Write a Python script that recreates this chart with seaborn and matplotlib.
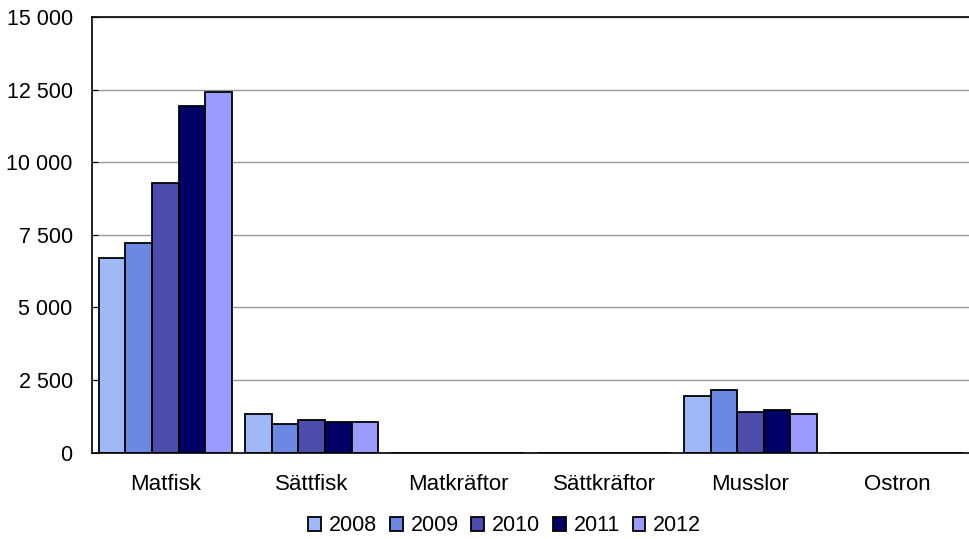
import pandas as pd
import seaborn as sns
import matplotlib.pyplot as plt
from matplotlib.ticker import FuncFormatter

# Data (ton)
categories = ['Matfisk', 'Sättfisk', 'Matkräftor', 'Sättkräftor', 'Musslor', 'Ostron']
years = ['2008', '2009', '2010', '2011', '2012']
v2008 = [6700, 1320, 0, 0, 1950, 0]
v2009 = [7230, 980, 0, 0, 2150, 0]
v2010 = [9290, 1130, 0, 0, 1410, 0]
v2011 = [11950, 1070, 0, 0, 1480, 0]
v2012 = [12430, 1060, 0, 0, 1340, 0]
colors = ['#A1B8F7', '#6B88E2', '#4C4CAC', '#000066', '#9B9BFF']

rows = []
for year, vals in zip(years, [v2008, v2009, v2010, v2011, v2012]):
    for cat, v in zip(categories, vals):
        rows.append({'kategori': cat, 'år': year, 'ton': v})
df = pd.DataFrame(rows)

sns.set_style('white')
plt.rcParams['font.family'] = ['Liberation Sans', 'DejaVu Sans']
plt.rcParams['text.color'] = 'black'
plt.rcParams['xtick.color'] = 'black'
plt.rcParams['ytick.color'] = 'black'

fig = plt.figure(figsize=(9.7, 5.39), dpi=100)
ax = fig.add_axes([0.095, 0.16, 0.905, 0.8085])

sns.barplot(data=df, x='kategori', y='ton', hue='år', palette=colors,
            saturation=1, width=0.91, edgecolor='black', linewidth=1.3,
            ax=ax, legend=True)

ax.set_ylim(0, 15000)
ax.set_xlim(-0.5, 5.5)
ax.set_yticks(range(0, 15001, 2500))
ax.yaxis.set_major_formatter(FuncFormatter(lambda v, p: f'{int(v):,}'.replace(',', ' ')))
ax.grid(axis='y', color='#999999', linewidth=1)
ax.set_axisbelow(True)
ax.set_xlabel('')
ax.set_ylabel('')

ax.spines['right'].set_visible(False)
for s in ['left', 'bottom', 'top']:
    ax.spines[s].set_color('black')
    ax.spines[s].set_linewidth(1.2)

ax.tick_params(axis='y', which='major', left=True, length=4, direction='in',
               labelsize=15.5, pad=14, labelcolor='black')
ax.tick_params(axis='x', bottom=False, labelsize=16, pad=12, labelcolor='black')

handles, labels = ax.get_legend_handles_labels()
leg = ax.legend(handles, labels, loc='center', bbox_to_anchor=(0.47, -0.168),
                ncol=5, frameon=False, fontsize=15.5, handlelength=0.6,
                handleheight=0.6, handletextpad=0.35, columnspacing=0.6)
for t in leg.get_texts():
    t.set_color('black')

fig.savefig('out.png', dpi=100)
